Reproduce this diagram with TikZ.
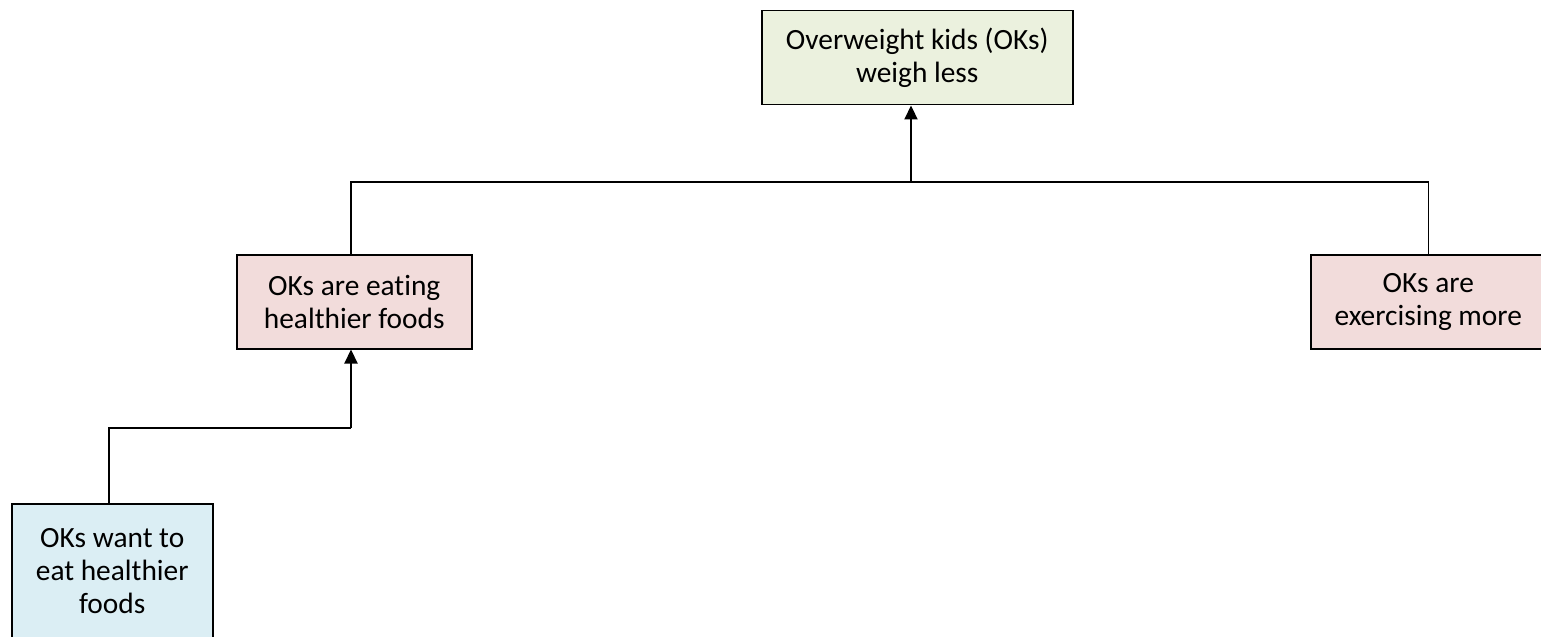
\documentclass[tikz,border=0pt]{standalone}
\usepackage{fontspec}
\setmainfont{Carlito}[Ligatures=NoCommon]
\usetikzlibrary{arrows.meta}
\definecolor{goalfill}{HTML}{EBF1DE}
\definecolor{midfill}{HTML}{F2DCDB}
\definecolor{basefill}{HTML}{DBEEF4}
\tikzset{
  box/.style={draw=black, line width=1.5bp, align=center, inner sep=0pt,
              font=\fontsize{29.5}{33}\selectfont, anchor=north west},
  link/.style={draw=black, line width=1.5bp},
  uparrow/.style={draw=black, line width=2.2bp, -{Triangle[length=14bp,width=13bp]}}
}
\begin{document}
\begin{tikzpicture}[x=1bp,y=-1bp]
\useasboundingbox (0,0) rectangle (1541,637);
\clip (0,0) rectangle (1541,637);
% outcome at the top
\node[box, fill=goalfill, minimum width=311bp, minimum height=94bp] (goal) at (761,10)
  {Overweight kids (OKs)\\weigh less};
% the two contributing conditions
\node[box, fill=midfill, minimum width=235bp, minimum height=94bp] (eat) at (236,254)
  {OKs are eating\\healthier foods};
\node[box, fill=midfill, minimum width=235bp, minimum height=94bp] (ex) at (1310,254)
  {OKs are\\exercising more};
% precondition at the bottom
\node[box, fill=basefill, minimum width=201bp, minimum height=134bp] (want) at (11,503)
  {OKs want to\\eat healthier\\foods};
% junction points of the connectors
\coordinate (join) at (911,182);
\coordinate (lowjoin) at (351,428);
\draw[link] (eat.north -| lowjoin) -- (lowjoin |- join) -- (ex.north |- join) -- (ex.north);
\draw[uparrow] (join) -- (join |- goal.south);
\draw[link] (want.north -| 109,0) |- (lowjoin);
\draw[uparrow] (lowjoin) -- (lowjoin |- eat.south);
\end{tikzpicture}
\end{document}
